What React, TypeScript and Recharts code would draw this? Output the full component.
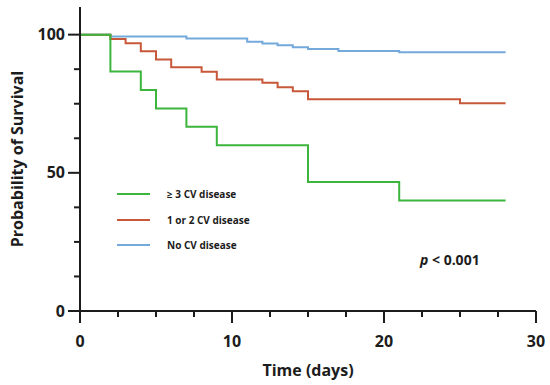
import { Legend, Line, LineChart, XAxis, YAxis } from 'recharts';

type TickProps = {
  x?: number;
  y?: number;
  payload?: { value: number };
};

// Kaplan-Meier steps (time in days, survival in %)
const timeGreen = [0, 2, 4, 5, 7, 9, 15, 21, 28];
const survivalGreen = [100, 86.7, 80, 73.3, 66.7, 60, 46.7, 40, 40];

const timeRed = [0, 2, 3, 4, 5, 6, 8, 9, 12, 13, 14, 15, 25, 28];
const survivalRed = [100, 98.4, 96.9, 94, 91, 88.2, 86.6, 83.8, 82.6, 81, 79.5, 76.6, 75.2, 75.2];

const timeBlue = [0, 2, 7, 11, 12, 13, 14, 15, 17, 21, 28];
const survivalBlue = [100, 99.3, 98.6, 97.4, 96.8, 96.2, 95.4, 94.8, 94.1, 93.6, 93.6];

const seriesLabels = ['≥ 3 CV disease', '1 or 2 CV disease', 'No CV disease'];
const seriesColors = ['#3cb53c', '#c8583a', '#74a9dc'];

const xTicks = [0, 2.5, 5, 7.5, 10, 12.5, 15, 17.5, 20, 22.5, 25, 27.5, 30];
const xMajorTicks = [0, 10, 20, 30];
const yTicks = [0, 12.5, 25, 37.5, 50, 62.5, 75, 87.5, 100];
const yMajorTicks = [0, 50, 100];

const pValueText = '< 0.001';

const toRows = (times: number[], values: number[]) =>
  times.map((t, i) => ({ t, s: values[i] }));

const series = [
  { key: 'green', data: toRows(timeGreen, survivalGreen) },
  { key: 'red', data: toRows(timeRed, survivalRed) },
  { key: 'blue', data: toRows(timeBlue, survivalBlue) },
];

const ink = '#1c1c1c';
const font = '"Open Sans", sans-serif';

function XTick({ x = 0, y = 0, payload }: TickProps) {
  const major = payload ? xMajorTicks.includes(payload.value) : false;
  return (
    <g>
      <line x1={x} x2={x} y1={y} y2={y + (major ? 12 : 6)} stroke={ink} strokeWidth={2} />
      {major ? (
        <text x={x} y={y + 36} textAnchor="middle" fill={ink} fontSize={16} fontWeight={700} fontFamily={font}>
          {payload?.value}
        </text>
      ) : null}
    </g>
  );
}

function YTick({ x = 0, y = 0, payload }: TickProps) {
  const major = payload ? yMajorTicks.includes(payload.value) : false;
  return (
    <g>
      <line x1={x - (major ? 12 : 6)} x2={x} y1={y} y2={y} stroke={ink} strokeWidth={2} />
      {major ? (
        <text x={x - 15} y={y} dy="0.35em" textAnchor="end" fill={ink} fontSize={16} fontWeight={700} fontFamily={font}>
          {payload?.value}
        </text>
      ) : null}
    </g>
  );
}

function LegendBox() {
  return (
    <div style={{ fontFamily: font, fontSize: 10, fontWeight: 700, color: ink }}>
      {seriesLabels.map((label, i) => (
        <div key={label} style={{ display: 'flex', alignItems: 'center', height: 25.7 }}>
          <span style={{ display: 'inline-block', width: 33, height: 2, background: seriesColors[i] }} />
          <span style={{ marginLeft: 17 }}>{label}</span>
        </div>
      ))}
    </div>
  );
}

export default function App() {
  return (
    <div style={{ position: 'absolute', left: 0, top: 0, width: 550, height: 385, background: '#fff' }}>
      <LineChart width={550} height={385} margin={{ top: 7, right: 14, bottom: 14, left: 0 }}>
        <XAxis
          type="number"
          dataKey="t"
          domain={[0, 30]}
          ticks={xTicks}
          interval={0}
          height={60}
          tickSize={0}
          tickMargin={0}
          tickLine={false}
          axisLine={{ stroke: ink, strokeWidth: 2 }}
          tick={<XTick />}
          label={{
            content: ({ viewBox }: any) => (
              <text
                x={viewBox.x + viewBox.width / 2}
                y={viewBox.y + 65}
                textAnchor="middle"
                fill={ink}
                fontSize={16}
                fontWeight={700}
                fontFamily={font}
              >
                Time (days)
              </text>
            ),
          }}
        />
        <YAxis
          type="number"
          dataKey="s"
          domain={[0, 110]}
          ticks={yTicks}
          interval={0}
          width={80}
          tickSize={0}
          tickMargin={0}
          tickLine={false}
          axisLine={{ stroke: ink, strokeWidth: 2 }}
          tick={<YTick />}
          label={{
            content: ({ viewBox }: any) => {
              const cx = viewBox.x + 17;
              const cy = viewBox.y + viewBox.height / 2;
              return (
                <text
                  x={cx}
                  y={cy}
                  transform={`rotate(-90 ${cx} ${cy})`}
                  textAnchor="middle"
                  dominantBaseline="central"
                  fill={ink}
                  fontSize={16}
                  fontWeight={700}
                  fontFamily={font}
                >
                  Probability of Survival
                </text>
              );
            },
          }}
        />
        <Legend
          layout="vertical"
          align="center"
          verticalAlign="middle"
          content={() => <LegendBox />}
          wrapperStyle={{ left: 117, top: 181, width: 'auto' }}
        />
        {series
          .slice()
          .reverse()
          .map((item) => (
            <Line
              key={item.key}
              data={item.data}
              dataKey="s"
              type="stepAfter"
              stroke={seriesColors[series.indexOf(item)]}
              strokeWidth={2}
              dot={false}
              activeDot={false}
              isAnimationActive={false}
            />
          ))}
      </LineChart>
      <div
        style={{
          position: 'absolute',
          left: 420,
          top: 250,
          fontFamily: font,
          fontSize: 14,
          fontWeight: 700,
          color: ink,
          whiteSpace: 'nowrap',
        }}
      >
        <i>p</i> {pValueText}
      </div>
    </div>
  );
}
